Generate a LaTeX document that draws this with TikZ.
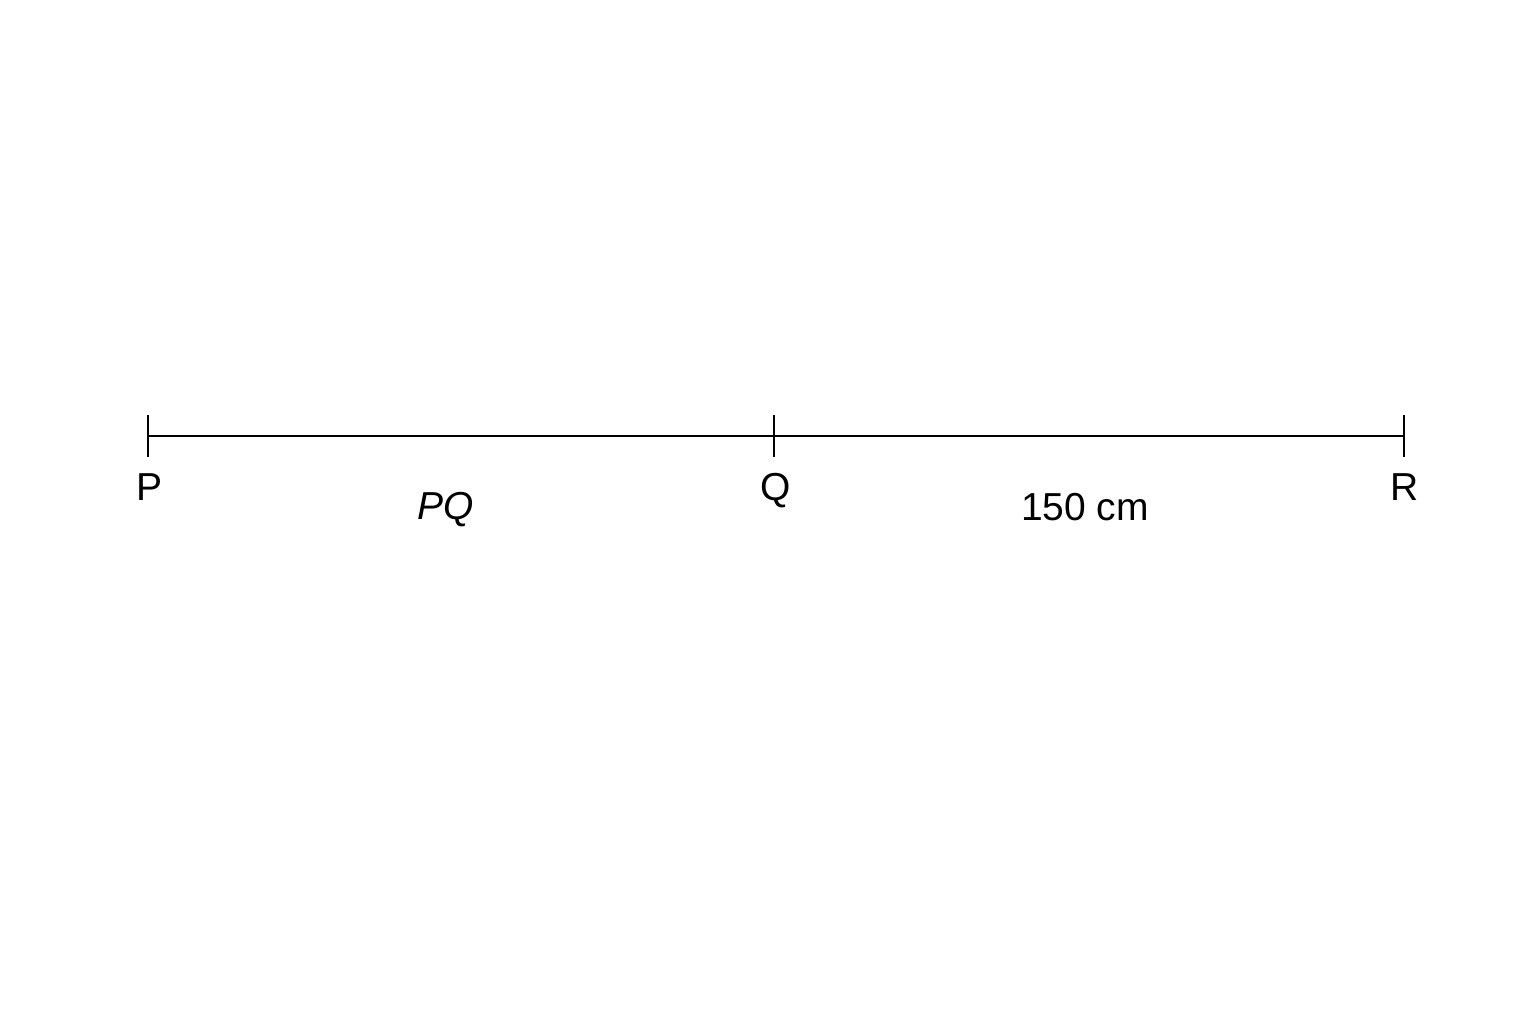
\documentclass[tikz,border=0pt]{standalone}
\usepackage{fontspec}
\setmainfont{Liberation Sans}
\begin{document}
\begin{tikzpicture}[x=1pt,y=-1pt,
  seg/.style={line width=2.8pt,black},
  lbl/.style={anchor=base,inner sep=0pt,font=\fontsize{39}{44}\selectfont}]
\useasboundingbox (0,0) rectangle (1536,1024);
\coordinate (P) at (148,436);
\coordinate (Q) at (774,436);
\coordinate (R) at (1404,436);
\draw[seg] (P) -- (R);
\foreach \p in {P,Q,R}{
  \draw[seg] ([yshift=21pt]\p) -- ([yshift=-21pt]\p);
}
\node[lbl] (lP) at (150,500) {P};
\node[lbl] (lQ) at (776,500) {Q};
\node[lbl] (lR) at (1405,500) {R};
\node[lbl] (lPQ) at (446,519) {\itshape PQ};
\node[lbl] (l150) at (1085,520) {150 cm};
\end{tikzpicture}
\end{document}
